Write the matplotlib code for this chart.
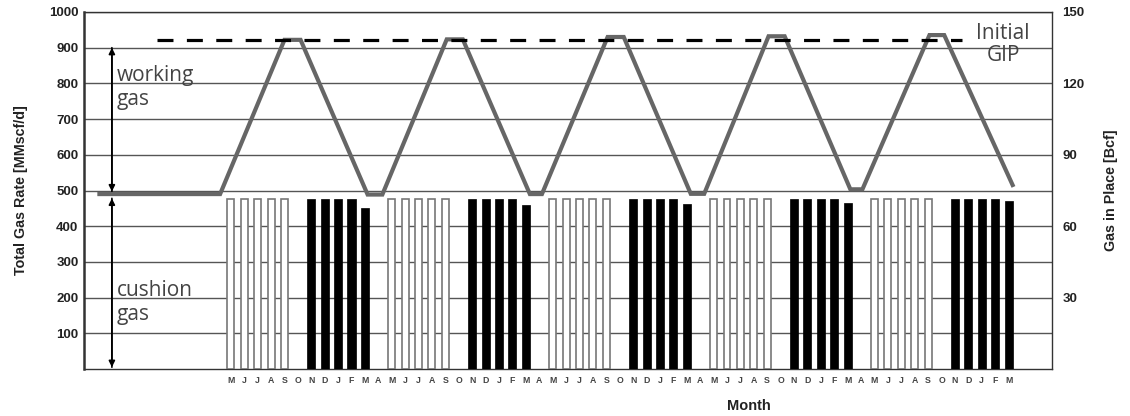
import matplotlib
matplotlib.use("Agg")
import matplotlib.pyplot as plt
import numpy as np

# ---- data ----
month_labels = ["M","J","J","A","S","O","N","D","J","F","M","A",
                "M","J","J","A","S","O","N","D","J","F","M","A",
                "M","J","J","A","S","O","N","D","J","F","M","A",
                "M","J","J","A","S","O","N","D","J","F","M","A",
                "M","J","J","A","S","O","N","D","J","F","M"]
# 1 = injection (white), 2 = withdrawal (black), 0 = none
month_type = [1,1,1,1,1,0,2,2,2,2,2,0,
              1,1,1,1,1,0,2,2,2,2,2,0,
              1,1,1,1,1,0,2,2,2,2,2,0,
              1,1,1,1,1,0,2,2,2,2,2,0,
              1,1,1,1,1,0,2,2,2,2,2]
gas_rate = [475,475,475,475,475,0,475,475,475,475,452,0,
            475,475,475,475,475,0,475,475,475,475,458,0,
            475,475,475,475,475,0,475,475,475,475,461,0,
            475,475,475,475,475,0,475,475,475,475,466,0,
            475,475,475,475,475,0,475,475,475,475,470]

gip_x = [-9.8, -0.8, 4.0, 5.2, 10.2, 11.3, 16.1, 17.3, 22.3, 23.2,
         28.1, 29.3, 34.3, 35.3, 40.1, 41.3, 46.2, 47.1, 52.1, 53.2, 58.3]
gip_bcf = [73.5, 73.5, 138.3, 138.3, 73.3, 73.3, 138.5, 138.5, 73.5, 73.5,
           139.5, 139.5, 73.6, 73.6, 139.8, 139.8, 75.5, 75.5, 140.3, 140.3, 77.3]
initial_gip = 138.2

left_ticks = [100, 200, 300, 400, 500, 600, 700, 800, 900, 1000]
right_ticks = [30, 60, 90, 120, 150]

# ---- figure ----
fig = plt.figure(figsize=(11.3, 4.16), dpi=100)
ax = fig.add_axes([84/1130, 1-369/416, (1051.5-84)/1130, (369-12)/416])
ax.set_xlim(-10.95, 61.2)
ax.set_ylim(0, 1000)

for v in left_ticks:
    ax.axhline(v, color="#555555", lw=1.0, zorder=1)

x = np.arange(len(month_labels))
for i in x:
    if month_type[i] == 1:
        ax.bar(i, gas_rate[i], width=0.52, facecolor="white", edgecolor="#777777",
               linewidth=1.2, zorder=3)
    elif month_type[i] == 2:
        ax.bar(i, gas_rate[i], width=0.6, facecolor="black", edgecolor="black",
               linewidth=0.5, zorder=3)

ax.set_xticks(x)
ax.set_xticklabels(month_labels, fontsize=6.3, color="#444444",
                   fontfamily="Liberation Sans", fontweight="bold")
ax.tick_params(axis="x", length=0, pad=5)
ax.set_yticks(left_ticks)
ax.set_yticklabels([str(t) for t in left_ticks], fontsize=9.5,
                   fontfamily="Liberation Sans", fontweight="bold", color="#222222")
ax.tick_params(axis="y", length=0, pad=4)
for s in ax.spines.values():
    s.set_color("#333333")
    s.set_linewidth(1.0)
ax.spines["left"].set_linewidth(1.8)

ax.set_ylabel("Total Gas Rate [MMscf/d]", fontsize=10.3, fontfamily="Liberation Sans",
              fontweight="bold", color="#222222")
ax.yaxis.set_label_coords(-0.058, 0.5)
ax.set_xlabel("Month", fontsize=10.5, fontfamily="Liberation Sans",
              fontweight="bold", color="#222222")
ax.xaxis.set_label_coords(0.687, -0.085)

# arrows and labels
arrow_kw = dict(arrowstyle="-|>", color="black", lw=1.2,
                mutation_scale=9, shrinkA=0, shrinkB=0)
ax.annotate("", xy=(-8.87, 497), xytext=(-8.87, 900), arrowprops=arrow_kw, zorder=5)
ax.annotate("", xy=(-8.87, 900), xytext=(-8.87, 497), arrowprops=arrow_kw, zorder=5)
ax.annotate("", xy=(-8.87, 5), xytext=(-8.87, 478), arrowprops=arrow_kw, zorder=5)
ax.annotate("", xy=(-8.87, 478), xytext=(-8.87, 5), arrowprops=arrow_kw, zorder=5)
ax.text(-8.5, 852, "working\ngas", fontsize=15, fontfamily="Open Sans",
        color="#444444", va="top", ha="left", linespacing=1.2, zorder=6)
ax.text(-8.5, 250, "cushion\ngas", fontsize=15, fontfamily="Open Sans",
        color="#444444", va="top", ha="left", linespacing=1.2, zorder=6)

# secondary axis
ax2 = ax.twinx()
ax2.set_ylim(0, 150)
ax2.set_yticks(right_ticks)
ax2.set_yticklabels([str(t) for t in right_ticks], fontsize=9.5,
                    fontfamily="Liberation Sans", fontweight="bold", color="#222222")
ax2.tick_params(axis="y", length=0, pad=8)
for s in ax2.spines.values():
    s.set_visible(False)
ax2.set_ylabel("Gas in Place [Bcf]", fontsize=10.3, fontfamily="Liberation Sans",
               fontweight="bold", color="#222222", rotation=90)
ax2.yaxis.set_label_coords(1.0545, 0.5)

ax2.plot(gip_x, gip_bcf, color="#666666", lw=3, solid_joinstyle="miter", zorder=4)
ax2.plot([-5.5, 54.5], [initial_gip, initial_gip], color="black", lw=2.3,
         dashes=(5, 4.2), zorder=4)
ax2.text(57.6, 136.4, "Initial\nGIP", fontsize=15, fontfamily="Open Sans",
         color="#444444", va="center", ha="center", linespacing=1.1, zorder=6)

fig.savefig("out.png", dpi=100)
